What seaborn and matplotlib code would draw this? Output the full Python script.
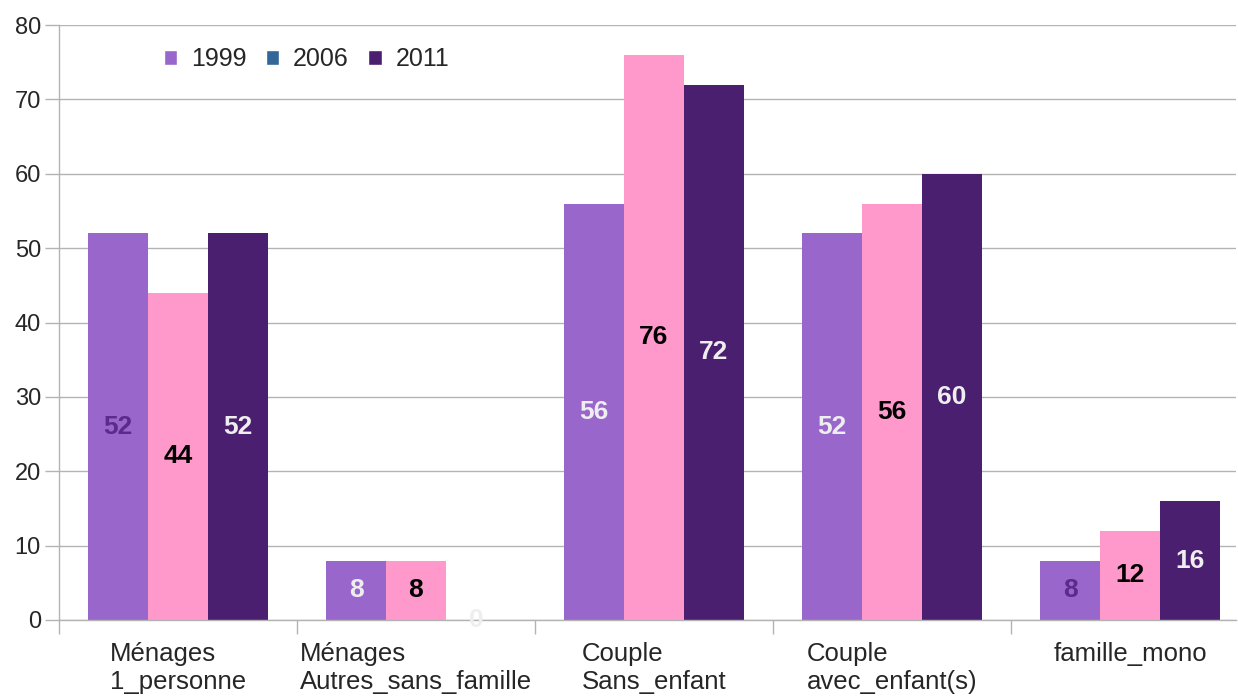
import pandas as pd
import seaborn as sns
import matplotlib.pyplot as plt
from matplotlib.patches import Patch

categories = ["Ménages\n1_personne", "Ménages\nAutres_sans_famille",
              "Couple\nSans_enfant", "Couple\navec_enfant(s)", "famille_mono"]
years = ["1999", "2006", "2011"]
values_1999 = [52, 8, 56, 52, 8]
values_2006 = [44, 8, 76, 56, 12]
values_2011 = [52, 0, 72, 60, 16]

bar_colors = {"1999": "#9966CC", "2006": "#FF99CC", "2011": "#4B1F6F"}
legend_colors = {"1999": "#9966CC", "2006": "#336699", "2011": "#4B1F6F"}
label_colors = {
    "1999": ["#5B2A8A", "#EEEEEE", "#EEEEEE", "#EEEEEE", "#5B2A8A"],
    "2006": ["black"] * 5,
    "2011": ["#EEEEEE"] * 5,
}

df = pd.DataFrame({
    "categorie": categories * 3,
    "annee": [y for y in years for _ in categories],
    "valeur": values_1999 + values_2006 + values_2011,
})

sns.set_style("white")
plt.rcParams["font.family"] = ["Liberation Sans", "DejaVu Sans"]

fig = plt.figure(figsize=(12.38, 6.99), dpi=100)
ax = fig.add_axes([59 / 1238, 79 / 699, (1236 - 59) / 1238, 595 / 699])

sns.barplot(data=df, x="categorie", y="valeur", hue="annee", order=categories,
            hue_order=years, palette=bar_colors, width=0.756, saturation=1,
            linewidth=0, legend=False, ax=ax)

for year, cont in zip(years, ax.containers):
    texts = ax.bar_label(cont, label_type="center", fontsize=19, fontweight="bold")
    for t, c in zip(texts, label_colors[year]):
        t.set_color(c)

ax.set_yticks(range(0, 81, 10))
ax.yaxis.grid(True, color="#B3B3B3", linewidth=1)
ax.set_axisbelow(True)
ax.set_xlabel("")
ax.set_ylabel("")

ax.set_xticks([i - 0.5 for i in range(5)], minor=False)
ax.set_xticklabels([])
ax.set_xticks(range(5), minor=True)
ax.set_xticklabels(categories, minor=True, fontsize=18.5, ha="center",
                   multialignment="left")
ax.tick_params(axis="x", which="minor", length=0, pad=16)
ax.tick_params(axis="x", which="major", length=10, color="#B3B3B3", width=1,
               direction="out", bottom=True)
ax.tick_params(axis="y", length=10, color="#B3B3B3", width=1, direction="out",
               left=True, labelsize=17, pad=3)

ax.set_ylim(0, 80)
ax.set_xlim(-0.5, -0.5 + (1236 - 59) / 238)

for side in ["top", "right"]:
    ax.spines[side].set_visible(False)
for side in ["left", "bottom"]:
    ax.spines[side].set_color("#B3B3B3")
    ax.spines[side].set_linewidth(1)

handles = [Patch(facecolor=legend_colors[y], label=y) for y in years]
ax.legend(handles=handles, loc="upper left", bbox_to_anchor=(0.0805, 0.98),
          ncol=3, frameon=False, fontsize=18, handlelength=0.55,
          handleheight=0.55, handletextpad=0.55, columnspacing=0.76,
          borderaxespad=0)

fig.savefig("out.png", dpi=100)
